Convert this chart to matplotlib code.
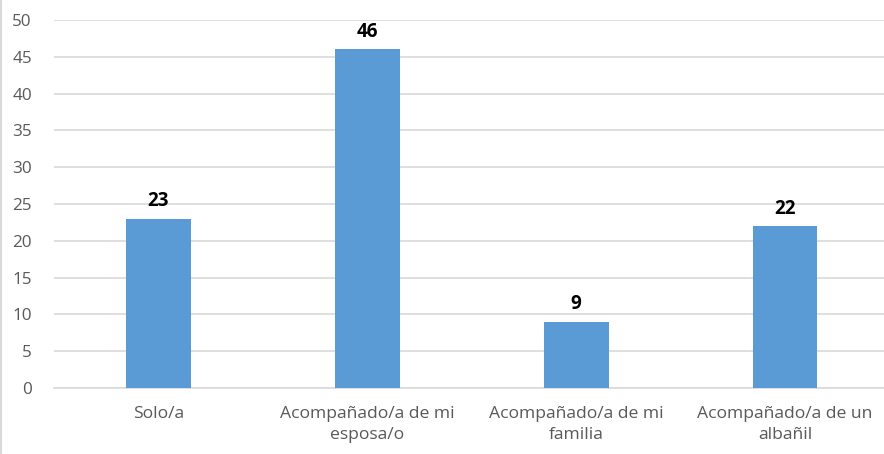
import matplotlib
matplotlib.use("Agg")
import matplotlib.pyplot as plt
import numpy as np

plt.rcParams['font.family'] = ['Open Sans', 'DejaVu Sans']

categories = ['Solo/a', 'Acompañado/a de mi\nesposa/o', 'Acompañado/a de mi\nfamilia',
              'Acompañado/a de un\nalbañil']
values = [23, 46, 9, 22]

fig = plt.figure(figsize=(8.84, 4.54), dpi=100)
ax = fig.add_axes([0.0611, 0.1454, 0.939, 0.8106])

x = np.arange(len(categories))
ax.bar(x, values, width=0.31, color='#5B9BD5', zorder=3)

for xi, v in zip(x, values):
    ax.text(xi, v + 1.0, str(v), ha='center', va='bottom', fontsize=13.5,
            fontweight='bold', color='black')

ax.set_xlim(-0.5, 3.474)
ax.set_ylim(0, 50)
ax.set_yticks(np.arange(0, 51, 5))
ax.yaxis.grid(True, color='#D9D9D9', linewidth=1.2, zorder=0)
ax.set_xticks(x)
ax.set_xticklabels(categories, fontsize=12.6, color='#595959', linespacing=1.4)
ax.tick_params(axis='y', labelsize=12.3, labelcolor='#595959', length=0, pad=16)
ax.tick_params(axis='x', length=0, pad=13)
for s in ['top', 'right', 'left']:
    ax.spines[s].set_visible(False)
ax.spines['bottom'].set_color('#D9D9D9')
ax.spines['bottom'].set_linewidth(1.2)

fig.add_artist(plt.Line2D([0.0015, 0.0015], [0, 1], color='#D9D9D9', linewidth=1.5))

fig.savefig('out.png', dpi=100)
